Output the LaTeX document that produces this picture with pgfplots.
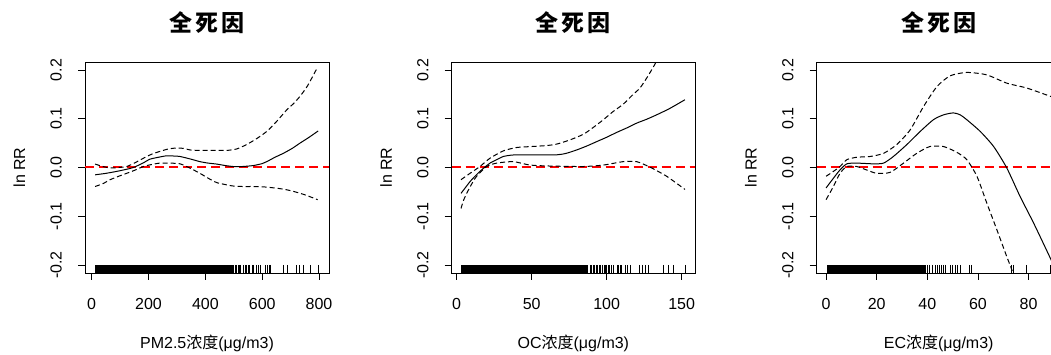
\documentclass[border=0pt]{standalone}
\usepackage{fontspec}
\setmainfont{Liberation Sans}
\newfontfamily\cjk{Noto Sans CJK SC}
\usepackage{pgfplots}
\pgfplotsset{compat=1.18}
\pgfplotsset{
  rstyle/.style={
    scale only axis, height=211pt,
    ymin=-0.2164, ymax=0.2164,
    ytick={-0.2,-0.1,0,0.1,0.2},
    yticklabels={-0.2,-0.1,0.0,0.1,0.2},
    tick align=outside, tick pos=left,
    major tick length=7pt,
    tick style={draw=black, line width=0.8pt},
    axis line style={line width=0.9pt},
    tick label style={font=\fontsize{16}{19}\selectfont},
    label style={font=\fontsize{16}{19}\selectfont},
    xticklabel style={anchor=north, inner sep=0pt, yshift=-18pt},
    yticklabel style={xshift=-16pt, rotate=90, anchor=south, inner sep=0pt},
    ylabel={ln RR},
    ylabel style={at={(axis description cs:-0.2459,0.5)}, anchor=base, rotate=0},
    title={\cjk\bfseries 全\hspace{3pt}死\hspace{3pt}因},
    title style={at={(axis description cs:0.5,1.1564)}, anchor=center, font=\fontsize{23}{26}\selectfont},
    xlabel style={at={(axis description cs:0.5,-0.3602)}, anchor=base},
  },
  ci/.style={draw=black, line width=1pt, dash pattern=on 5pt off 3pt, smooth, tension=0.4},
  fit/.style={draw=black, line width=1pt, smooth, tension=0.4},
  rugbar/.style={only marks, mark=|, mark size=4pt, mark options={draw=black, line width=0.8pt}},
  zeroline/.style={draw=red, line width=2pt, dash pattern=on 9pt off 5pt},
}
\begin{document}
\begin{tikzpicture}
% Panel 1: PM2.5
\begin{axis}[rstyle, at={(85pt,82pt)}, anchor=south west, width=244pt,
  xmin=-23.5, xmax=835, xtick={0,200,400,600,800},
  xticklabels={0,200,400,600,800},
  xlabel={PM2.5{\cjk 浓度}(μg/m3)}]
\addplot[zeroline] coordinates {(-23.5,0) (835,0)};
\addplot[fill=black, draw=none] coordinates {(10,-0.2164) (500,-0.2164) (500,-0.2) (10,-0.2)};
\addplot[rugbar] coordinates {(505,-0.2082) (510,-0.2082) (515,-0.2082) (520,-0.2082) (525,-0.2082) (535,-0.2082) (540,-0.2082) (545,-0.2082) (550,-0.2082) (555,-0.2082) (565,-0.2082) (570,-0.2082) (580,-0.2082) (585,-0.2082) (595,-0.2082) (612,-0.2082) (618,-0.2082) (624,-0.2082) (630,-0.2082) (675,-0.2082) (690,-0.2082) (720,-0.2082) (732,-0.2082) (745,-0.2082) (768,-0.2082) (797,-0.2082)};
\addplot[fit] coordinates {(12,-0.015) (50,-0.012) (88,-0.008) (120,-0.004) (147,0.0) (180,0.009) (205,0.017) (235,0.021) (264,0.024) (290,0.0235) (311,0.0226) (350,0.017) (381,0.012) (410,0.009) (440,0.007) (470,0.004) (498,0.002) (530,0.002) (569,0.004) (600,0.008) (616,0.012) (645,0.021) (674,0.029) (705,0.039) (733,0.05) (765,0.062) (797,0.075)};
\addplot[ci] coordinates {(12,0.007) (40,0.002) (65,-0.001) (95,0.0) (123,0.002) (150,0.009) (182,0.019) (210,0.027) (240,0.033) (270,0.038) (299,0.04) (325,0.039) (346,0.036) (380,0.035) (405,0.035) (440,0.035) (475,0.035) (510,0.038) (545,0.047) (580,0.059) (616,0.074) (650,0.094) (686,0.118) (710,0.131) (733,0.146) (760,0.168) (795,0.206)};
\addplot[ci] coordinates {(12,-0.039) (40,-0.033) (65,-0.025) (95,-0.018) (123,-0.012) (150,-0.006) (182,0.002) (210,0.006) (240,0.009) (275,0.009) (311,0.0075) (345,-0.001) (381,-0.012) (410,-0.022) (440,-0.031) (470,-0.035) (498,-0.038) (530,-0.039) (569,-0.039) (610,-0.040) (651,-0.0425) (680,-0.045) (710,-0.049) (750,-0.056) (795,-0.066)};
\end{axis}
% Panel 2: OC
\begin{axis}[rstyle, at={(451.7pt,82pt)}, anchor=south west, width=243.3pt,
  xmin=-3.3, xmax=158.9, xtick={0,50,100,150},
  xticklabels={0,50,100,150},
  xlabel={OC{\cjk 浓度}(μg/m3)}]
\addplot[zeroline] coordinates {(-3.3,0) (158.9,0)};
\addplot[fill=black, draw=none] coordinates {(2.9,-0.2164) (87.7,-0.2164) (87.7,-0.2) (2.9,-0.2)};
\addplot[rugbar] coordinates {(88.9,-0.2082) (90,-0.2082) (91,-0.2082) (92,-0.2082) (93,-0.2082) (94,-0.2082) (95,-0.2082) (96,-0.2082) (97.3,-0.2082) (98.2,-0.2082) (98.9,-0.2082) (100,-0.2082) (101,-0.2082) (102,-0.2082) (103,-0.2082) (104.4,-0.2082) (107,-0.2082) (108,-0.2082) (109,-0.2082) (110,-0.2082) (112.2,-0.2082) (114,-0.2082) (116,-0.2082) (121.5,-0.2082) (123.8,-0.2082) (125.5,-0.2082) (127.7,-0.2082) (137.7,-0.2082) (141,-0.2082) (144.4,-0.2082) (152.2,-0.2082)};
\addplot[fit] coordinates {(2.9,-0.053) (5.9,-0.041) (8.9,-0.029) (12.2,-0.018) (15.5,-0.008) (18.9,0.001) (22.2,0.009) (26.7,0.016) (31.1,0.0226) (35.5,0.025) (40,0.026) (53.3,0.026) (66.7,0.026) (73,0.029) (80,0.036) (86.7,0.044) (93.3,0.053) (100,0.062) (106.7,0.072) (113.3,0.081) (120,0.091) (126.7,0.099) (133.3,0.108) (142,0.121) (152.2,0.139)};
\addplot[ci] coordinates {(2.9,-0.025) (8.9,-0.012) (15.5,0.002) (22.2,0.019) (31.1,0.034) (40,0.041) (50,0.043) (60,0.045) (66.7,0.048) (75,0.056) (84.4,0.068) (91,0.082) (97.8,0.098) (104,0.114) (111.1,0.13) (117,0.148) (122.2,0.163) (127,0.185) (132.2,0.212) (135,0.23)};
\addplot[ci] coordinates {(2.9,-0.084) (4.5,-0.068) (6.7,-0.053) (10,-0.034) (13.3,-0.018) (20,0.002) (26.7,0.009) (37.8,0.012) (48.9,0.005) (62.2,0.003) (84.4,0.002) (97.8,0.005) (111.1,0.012) (120,0.012) (128.9,0.0007) (140,-0.018) (152.2,-0.045)};
\end{axis}
% Panel 3: EC
\begin{axis}[rstyle, at={(816.7pt,82pt)}, anchor=south west, width=244pt,
  xmin=-3.7, xmax=92.7, xtick={0,20,40,60,80},
  xticklabels={0,20,40,60,80},
  xlabel={EC{\cjk 浓度}(μg/m3)}]
\addplot[zeroline] coordinates {(-3.7,0) (92.7,0)};
\addplot[fill=black, draw=none] coordinates {(0.3,-0.2164) (39.5,-0.2164) (39.5,-0.2) (0.3,-0.2)};
\addplot[rugbar] coordinates {(40.2,-0.2082) (41,-0.2082) (42,-0.2082) (43,-0.2082) (44,-0.2082) (44.7,-0.2082) (45.5,-0.2082) (46.3,-0.2082) (47,-0.2082) (49,-0.2082) (50,-0.2082) (51,-0.2082) (52,-0.2082) (53,-0.2082) (56.7,-0.2082) (57.6,-0.2082) (73.4,-0.2082) (74,-0.2082) (79.3,-0.2082) (88.5,-0.2082)};
\addplot[fit] coordinates {(0,-0.042) (2.9,-0.022) (5.5,-0.005) (8.2,0.0075) (12.1,0.009) (18.7,0.0075) (22.7,0.009) (26.6,0.0226) (31.9,0.047) (37.2,0.074) (42.4,0.098) (46.4,0.108) (50.3,0.112) (53,0.108) (55.6,0.098) (60.9,0.074) (66.2,0.043) (71.4,-0.001) (76.7,-0.060) (82,-0.114) (88.6,-0.186) (93,-0.235)};
\addplot[ci] coordinates {(0,-0.018) (2.9,-0.008) (5.5,0.002) (8.2,0.016) (12.1,0.021) (17.4,0.0226) (22.7,0.029) (27.9,0.047) (33.2,0.077) (38.5,0.125) (43.8,0.166) (49,0.188) (55.6,0.195) (63.5,0.19) (71.4,0.173) (79.3,0.163) (88.6,0.146) (93,0.138)};
\addplot[ci] coordinates {(0,-0.066) (2.9,-0.039) (5.5,-0.012) (8.2,0.002) (12.1,0.002) (16,-0.005) (20,-0.012) (25.3,-0.010) (30.6,0.009) (35.8,0.029) (41,0.043) (46.4,0.043) (51.7,0.031) (55.6,0.016) (59.6,-0.018) (63.5,-0.073) (67.5,-0.128) (71.4,-0.183) (73.4,-0.21) (74.5,-0.23)};
\end{axis}
\pgfresetboundingbox
\useasboundingbox (0,0) rectangle (1051pt,355pt);
\end{tikzpicture}
\end{document}
